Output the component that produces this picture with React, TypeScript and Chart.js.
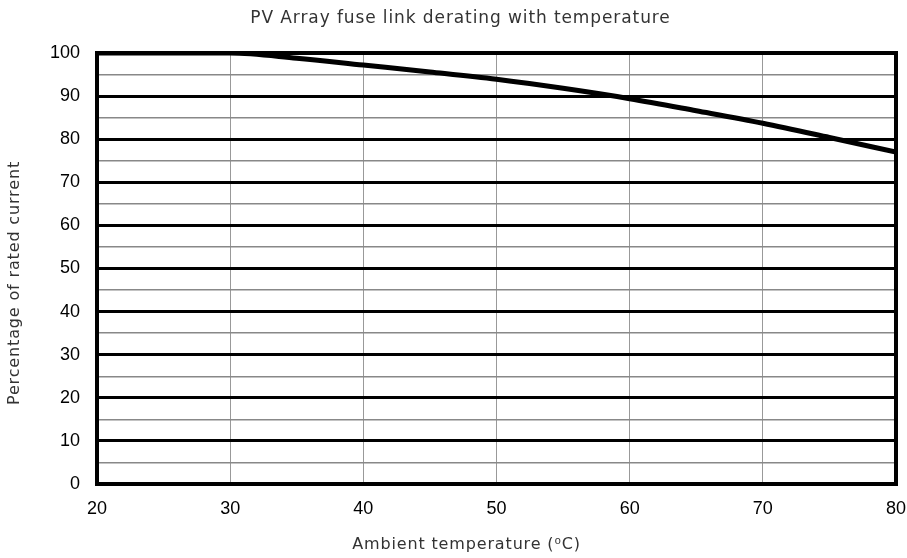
import React, { useEffect, useRef } from "react";
import { Chart, registerables } from "chart.js";

Chart.register(...registerables);

const temperatures = [20, 30, 35, 40, 45, 50, 55, 60, 65, 70, 75, 80];
const ratedPercent = [100, 100, 98.8, 97.2, 95.6, 93.9, 91.8, 89.4, 86.6, 83.7, 80.4, 77];
const chartTitle = "PV Array fuse link derating with temperature";
const xTitle = "Ambient temperature (\u2070C)";
const yTitle = "Percentage of rated current";

const TICK_FONT = "'Liberation Sans', Arial, Helvetica, sans-serif";
const TITLE_FONT = "'DejaVu Sans', sans-serif";
const TITLE_COLOR = "#333";

const borderPlugin = {
  id: "frameBorder",
  afterDatasetsDraw(chart: any) {
    const { ctx, chartArea } = chart;
    ctx.save();
    ctx.strokeStyle = "#000";
    ctx.lineWidth = 4;
    ctx.strokeRect(chartArea.left, chartArea.top, chartArea.right - chartArea.left, chartArea.bottom - chartArea.top);
    ctx.restore();
  },
};

const titlesPlugin = {
  id: "textTitles",
  afterDraw(chart: any) {
    const { ctx, width, height } = chart;
    ctx.save();
    ctx.fillStyle = TITLE_COLOR;
    ctx.textAlign = "center";
    ctx.textBaseline = "middle";
    (ctx as any).letterSpacing = "0.9px";
    ctx.font = `17px ${TITLE_FONT}`;
    ctx.fillText(chartTitle, width / 2 + 7, 19);
    (ctx as any).letterSpacing = "0.85px";
    ctx.font = `16px ${TITLE_FONT}`;
    ctx.fillText(xTitle, width / 2 + 13, height - 13);
    ctx.translate(15, height / 2 + 4);
    ctx.rotate(-Math.PI / 2);
    ctx.fillText(yTitle, 0, 0);
    ctx.restore();
  },
};

export default function App() {
  const ref = useRef<HTMLCanvasElement | null>(null);
  useEffect(() => {
    document.body.style.margin = "0";
    const canvas = ref.current!;
    const chart = new Chart(canvas, {
      type: "line",
      data: {
        datasets: [
          {
            data: temperatures.map((t, i) => ({ x: t, y: ratedPercent[i] })),
            borderColor: "#000",
            borderWidth: 5,
            pointRadius: 0,
            cubicInterpolationMode: "monotone",
            fill: false,
          },
        ],
      },
      options: {
        animation: false,
        responsive: false,
        maintainAspectRatio: false,
        layout: { padding: { left: 0, right: 11, top: 53, bottom: 0 } },
        plugins: {
          legend: { display: false },
          tooltip: { enabled: false },
          title: { display: false },
        },
        scales: {
          x: {
            type: "linear",
            min: 20,
            max: 80,
            ticks: { stepSize: 10, color: "#000", font: { family: TICK_FONT, size: 18 }, padding: 14 },
            grid: { color: "#999", lineWidth: 1, drawTicks: false },
            border: { display: false },
            afterFit(scale: any) {
              scale.height = 74;
              scale.paddingLeft = 0;
              scale.paddingRight = 0;
            },
          },
          y: {
            min: 0,
            max: 100,
            ticks: {
              stepSize: 5,
              autoSkip: false,
              color: "#000",
              font: { family: TICK_FONT, size: 18 },
              padding: 17,
              callback: (v: any) => (Number(v) % 10 === 0 ? String(v) : ""),
            },
            grid: {
              drawTicks: false,
              color: (c: any) => (c.tick && c.tick.value % 10 === 0 ? "#000" : "#888"),
              lineWidth: (c: any) => (c.tick && c.tick.value % 10 === 0 ? 3 : 1.5),
            },
            border: { display: false },
            afterFit(scale: any) {
              scale.width = 97;
              scale.paddingTop = 0;
              scale.paddingBottom = 0;
            },
          },
        },
      },
      plugins: [borderPlugin, titlesPlugin],
    });
    return () => chart.destroy();
  }, []);
  return (
    <div style={{ width: 907, height: 558, background: "#fff" }}>
      <canvas ref={ref} width={907} height={558} style={{ display: "block" }} />
    </div>
  );
}
